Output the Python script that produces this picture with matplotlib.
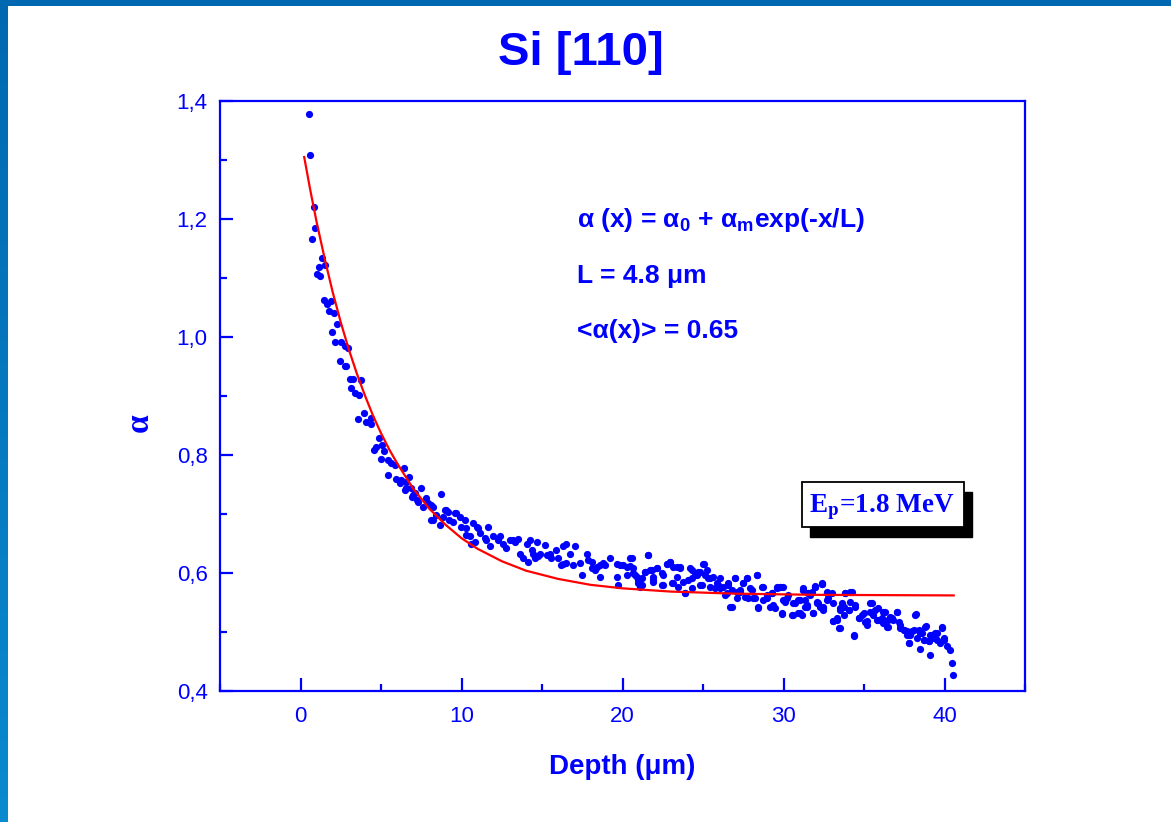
import matplotlib
matplotlib.use("Agg")
import matplotlib.pyplot as plt
from matplotlib.patches import Rectangle
from matplotlib.colors import LinearSegmentedColormap
from matplotlib.ticker import MultipleLocator, FuncFormatter
import numpy as np

depth = [0.52, 0.62, 0.73, 0.83, 0.91, 1.04, 1.12, 1.24, 1.33, 1.45, 1.53, 1.66, 1.74, 1.87,
         1.95, 2.05, 2.16, 2.24, 2.43, 2.53, 2.74, 2.74, 2.84, 2.94, 3.05, 3.15, 3.25, 3.36,
         3.57, 3.61, 3.73, 3.94, 4.08, 4.35, 4.40, 4.56, 4.71, 4.85, 4.98, 5.06, 5.18, 5.43,
         5.43, 5.64, 5.85, 5.95, 6.16, 6.26, 6.41, 6.47, 6.57, 6.57, 6.73, 6.88, 6.95, 6.99,
         7.09, 7.24, 7.30, 7.51, 7.61, 7.81, 7.92, 8.13, 8.13, 8.23, 8.23, 8.44, 8.64, 8.71,
         8.85, 8.96, 9.06, 9.16, 9.22, 9.47, 9.58, 9.68, 9.89, 9.99, 10.20, 10.30, 10.30, 10.51,
         10.61, 10.72, 10.82, 10.96, 11.03, 11.13, 11.44, 11.55, 11.65, 11.75, 11.96, 12.27, 12.38,
         12.58, 12.79, 13.00, 13.20, 13.31, 13.51, 13.62, 13.83, 14.04, 14.14, 14.24, 14.35, 14.45,
         14.55, 14.66, 14.76, 14.86, 15.17, 15.28, 15.49, 15.59, 15.90, 16.00, 16.21, 16.31, 16.31,
         16.52, 16.52, 16.73, 16.93, 17.04, 17.35, 17.46, 17.77, 17.87, 18.08, 18.08, 18.28, 18.39,
         18.59, 18.59, 18.80, 18.91, 19.22, 19.63, 19.63, 19.73, 19.84, 20.05, 20.26, 20.25, 20.46,
         20.46, 20.67, 20.67, 20.88, 20.98, 21.08, 21.19, 21.39, 21.60, 21.81, 21.91, 21.91, 22.12,
         22.43, 22.53, 22.74, 22.95, 23.05, 23.15, 23.36, 23.46, 23.57, 23.88, 24.19, 24.30, 24.50,
         24.71, 24.81, 25.02, 25.12, 25.33, 25.44, 25.64, 25.85, 26.06, 26.26, 26.47, 26.57, 26.78,
         26.99, 27.10, 27.30, 27.51, 27.61, 27.72, 27.92, 28.13, 28.34, 28.44, 28.75, 28.96, 29.27,
         29.37, 29.58, 29.79, 29.89, 29.99, 30.20, 30.52, 30.62, 30.93, 31.03, 31.24, 31.34, 31.55,
         31.76, 31.86, 31.97, 32.17, 32.38, 32.48, 32.69, 32.79, 33.10, 33.31, 33.42, 33.52, 33.63,
         33.83, 34.04, 34.14, 34.35, 34.45, 34.66, 34.97, 35.18, 35.39, 35.59, 35.80, 35.90, 36.21,
         36.42, 36.52, 36.73, 37.04, 37.25, 37.46, 37.67, 37.77, 37.98, 38.18, 38.29, 38.49, 38.70,
         38.81, 39.01, 39.12, 39.22, 39.43, 39.53, 39.84, 39.94, 40.15, 40.36, 40.46, 40.53]
alpha = [1.378, 1.308, 1.166, 1.220, 1.185, 1.106, 1.119, 1.103, 1.134, 1.062, 1.122, 1.056, 1.044, 1.061,
         1.009, 1.040, 0.992, 1.022, 0.960, 0.991, 0.984, 0.950, 0.951, 0.981, 0.928, 0.913, 0.929, 0.905,
         0.861, 0.902, 0.927, 0.871, 0.856, 0.853, 0.862, 0.808, 0.813, 0.829, 0.794, 0.817, 0.806, 0.792,
         0.766, 0.786, 0.783, 0.759, 0.752, 0.758, 0.778, 0.741, 0.744, 0.755, 0.762, 0.744, 0.729, 0.732,
         0.735, 0.723, 0.721, 0.744, 0.712, 0.727, 0.718, 0.715, 0.690, 0.712, 0.690, 0.698, 0.681, 0.734,
         0.695, 0.707, 0.707, 0.704, 0.690, 0.687, 0.701, 0.701, 0.695, 0.678, 0.690, 0.664, 0.676, 0.662,
         0.650, 0.684, 0.653, 0.678, 0.676, 0.667, 0.659, 0.656, 0.678, 0.645, 0.662, 0.656, 0.662,
         0.650, 0.642, 0.656, 0.656, 0.653, 0.657, 0.633, 0.625, 0.650, 0.619, 0.656, 0.639, 0.633,
         0.625, 0.653, 0.628, 0.633, 0.647, 0.631, 0.633, 0.625, 0.639, 0.625, 0.614, 0.616, 0.645,
         0.650, 0.617, 0.633, 0.614, 0.645, 0.617, 0.597, 0.633, 0.622, 0.608, 0.619, 0.605, 0.611,
         0.594, 0.614, 0.617, 0.614, 0.625, 0.616, 0.594, 0.580, 0.614, 0.614, 0.611, 0.597, 0.625,
         0.612, 0.600, 0.608, 0.594, 0.583, 0.577, 0.591, 0.602, 0.631, 0.605, 0.594, 0.588, 0.608,
         0.600, 0.580, 0.616, 0.619, 0.583, 0.611, 0.594, 0.577, 0.611, 0.566, 0.608, 0.591, 0.597,
         0.602, 0.580, 0.615, 0.597, 0.591, 0.577, 0.594, 0.583, 0.574, 0.577, 0.566, 0.583, 0.543,
         0.591, 0.568, 0.571, 0.583, 0.560, 0.591, 0.574, 0.557, 0.597, 0.543, 0.577, 0.557, 0.566,
         0.546, 0.577, 0.577, 0.532, 0.554, 0.557, 0.529, 0.549, 0.532, 0.554, 0.574, 0.543, 0.566,
         0.568, 0.532, 0.577, 0.549, 0.581, 0.543, 0.566, 0.557, 0.518, 0.523, 0.506, 0.540, 0.549,
         0.566, 0.537, 0.568, 0.495, 0.546, 0.523, 0.532, 0.518, 0.549, 0.529, 0.520, 0.540, 0.534,
         0.509, 0.520, 0.523, 0.534, 0.512, 0.503, 0.495, 0.481, 0.501, 0.529, 0.489, 0.498, 0.486,
         0.509, 0.484, 0.461, 0.495, 0.498, 0.486, 0.508, 0.486, 0.476, 0.469, 0.448, 0.427]

# second pass over the denser tail (20-40 um)
depth_tail = [20.56, 20.77, 20.98, 21.19, 21.39, 21.60, 21.70, 21.91, 22.12, 22.43, 22.53, 22.74, 22.95,
              23.15, 23.36, 23.57, 23.78, 23.88, 24.09, 24.30, 24.30, 24.61, 24.81, 24.92, 25.06, 25.23,
              25.44, 25.75, 25.95, 26.06, 26.37, 26.57, 26.68, 26.78, 26.99, 27.10, 27.30, 27.51, 27.72,
              27.82, 28.03, 28.23, 28.34, 28.44, 28.65, 28.75, 28.96, 29.17, 29.27, 29.48, 29.58, 29.79,
              29.89, 29.99, 30.10, 30.31, 30.62, 30.72, 30.93, 31.14, 31.24, 31.45, 31.66, 31.86, 31.97,
              32.07, 32.38, 32.48, 32.69, 31.24, 31.55, 31.97, 32.38, 32.69, 33.00, 33.83, 34.25, 31.34,
              31.45, 31.03, 32.07, 32.28, 32.48, 32.69, 33.10, 33.52, 33.73, 34.04, 34.14, 34.45, 33.73,
              33.31, 33.10, 33.48, 34.35, 34.66, 34.87, 35.07, 35.18, 35.49, 35.39, 35.70, 35.90, 36.11,
              36.32, 36.21, 36.46, 36.63, 36.83, 37.04, 37.15, 37.25, 37.46, 37.67, 37.87, 37.77, 38.08,
              38.25, 38.39, 38.60, 38.70, 38.87, 39.01, 38.45, 39.12, 39.22, 39.43, 39.53, 39.84, 39.94,
              39.74]
alpha_tail = [0.625, 0.597, 0.588, 0.580, 0.602, 0.631, 0.605, 0.585, 0.608, 0.580, 0.597, 0.616, 0.619,
              0.583, 0.611, 0.608, 0.585, 0.566, 0.588, 0.574, 0.605, 0.597, 0.602, 0.580, 0.615, 0.605,
              0.591, 0.574, 0.580, 0.591, 0.563, 0.580, 0.543, 0.571, 0.591, 0.557, 0.568, 0.583, 0.591,
              0.557, 0.571, 0.557, 0.597, 0.540, 0.577, 0.554, 0.563, 0.543, 0.566, 0.540, 0.574, 0.577,
              0.531, 0.577, 0.551, 0.563, 0.529, 0.549, 0.554, 0.529, 0.571, 0.543, 0.563, 0.532, 0.577,
              0.551, 0.583, 0.540, 0.568, 0.572, 0.566, 0.578, 0.581, 0.566, 0.566, 0.566, 0.567, 0.554,
              0.546, 0.532, 0.549, 0.543, 0.538, 0.554, 0.549, 0.537, 0.543, 0.537, 0.551, 0.543, 0.529,
              0.520, 0.518, 0.507, 0.493, 0.523, 0.529, 0.517, 0.512, 0.549, 0.534, 0.537, 0.520, 0.523,
              0.534, 0.515, 0.509, 0.526, 0.520, 0.534, 0.517, 0.506, 0.503, 0.501, 0.495, 0.482, 0.503,
              0.531, 0.503, 0.498, 0.486, 0.511, 0.484, 0.472, 0.495, 0.489, 0.489, 0.498, 0.507, 0.489,
              0.481]

# exponential fit curve
fit_depth = [0.23, 0.6, 1.0, 1.5, 2.0, 2.5, 3.0, 3.5, 4.0, 4.5, 5.0, 5.5, 6.0, 7.0, 8.0, 9.0,
             10.0, 11.0, 12.5, 14.0, 16.0, 18.0, 20.0, 23.0, 27.0, 32.0, 40.57]
fit_alpha = [1.305, 1.250, 1.195, 1.133, 1.076, 1.025, 0.979, 0.938, 0.901, 0.867, 0.837, 0.810,
             0.786, 0.743, 0.709, 0.682, 0.659, 0.641, 0.620, 0.604, 0.590, 0.580, 0.574, 0.5685,
             0.565, 0.563, 0.562]

BLUE = "#0000FF"
plt.rcParams["font.family"] = ["Liberation Sans", "DejaVu Sans"]
plt.rcParams["mathtext.fontset"] = "custom"
plt.rcParams["mathtext.bf"] = "Liberation Sans:bold"
plt.rcParams["mathtext.rm"] = "Liberation Sans"

W, H = 1171, 822
fig = plt.figure(figsize=(W / 100, H / 100), dpi=100)
fig.patch.set_facecolor("white")

# slide frame: blue bar at top, gradient bar at left
top_bar = fig.add_axes([0, 1 - 6 / H, 1, 6 / H])
top_bar.set_axis_off()
top_bar.add_patch(Rectangle((0, 0), 1, 1, color="#0068B0", transform=top_bar.transAxes))
left_bar = fig.add_axes([0, 0, 8 / W, 1])
left_bar.set_axis_off()
grad = np.linspace(0, 1, 256).reshape(-1, 1)
cmap = LinearSegmentedColormap.from_list("edge", ["#0A8ACF", "#0068B0"])
left_bar.imshow(grad, aspect="auto", cmap=cmap, extent=[0, 1, 0, 1], origin="lower")

ax = fig.add_axes([220 / W, 1 - 691 / H, 805 / W, 590 / H])
ax.scatter(depth, alpha, s=27, color=BLUE, linewidths=0, zorder=3)
ax.scatter(depth_tail, alpha_tail, s=27, color=BLUE, linewidths=0, zorder=3)
ax.plot(fit_depth, fit_alpha, color="#FF0000", lw=1.6, zorder=4)

ax.set_xlim(-5, 45)
ax.set_ylim(0.4, 1.4)
ax.xaxis.set_major_locator(MultipleLocator(10))
ax.xaxis.set_minor_locator(MultipleLocator(5))
ax.yaxis.set_major_locator(MultipleLocator(0.2))
ax.yaxis.set_minor_locator(MultipleLocator(0.1))
ax.yaxis.set_major_formatter(FuncFormatter(lambda v, p: f"{v:.1f}".replace(".", ",")))

for s in ax.spines.values():
    s.set_color(BLUE)
    s.set_linewidth(1.6)
ax.tick_params(which="both", direction="in", color=BLUE, width=1.6, labelcolor=BLUE,
               top=False, right=False)
ax.tick_params(which="major", length=9.5, labelsize=16, pad=9)
ax.tick_params(which="minor", length=5)
ax.tick_params(axis="x", which="major", pad=11)

ax.set_xlabel("Depth (μm)", fontsize=20, fontweight="bold", color=BLUE, labelpad=19)
ax.set_ylabel("α", fontsize=24, fontweight="bold", color=BLUE, va="center",
              family=["Liberation Serif", "DejaVu Serif"])
ax.yaxis.set_label_coords(-0.1006, 0.454)

fig.text(0.496, 1 - 53 / H, "Si [110]", ha="center", va="center", fontsize=34,
         fontweight="bold", color=BLUE)

# fit annotation
ax.text(0.443, 0.786, r"α (x) = α$_\mathbf{0}$ + α$_\mathbf{m}$exp(-x/L)", transform=ax.transAxes,
        fontsize=19, fontweight="bold", color=BLUE, va="baseline", ha="left")
ax.text(0.443, 0.692, "L = 4.8 μm", transform=ax.transAxes,
        fontsize=19, fontweight="bold", color=BLUE, va="baseline", ha="left")
ax.text(0.443, 0.598, "<α(x)> = 0.65", transform=ax.transAxes,
        fontsize=19, fontweight="bold", color=BLUE, va="baseline", ha="left")

# beam energy box with drop shadow
bw, bh = (964 - 802) / W, 45 / H
fig.add_artist(Rectangle((810 / W, 1 - 537 / H), bw, bh, transform=fig.transFigure,
                         facecolor="black", edgecolor="black", zorder=5))
fig.add_artist(Rectangle((802 / W, 1 - 527 / H), bw, bh, transform=fig.transFigure,
                         facecolor="white", edgecolor="black", lw=1.3, zorder=6))
fig.text(809 / W, 1 - 512 / H, r"E$_\mathbf{p}$=1.8 MeV", ha="left", va="baseline",
         fontsize=19.5, fontweight="bold", color=BLUE, family="Liberation Serif",
         math_fontfamily="stix", zorder=7)

fig.savefig("out.png", dpi=100, facecolor="white")
